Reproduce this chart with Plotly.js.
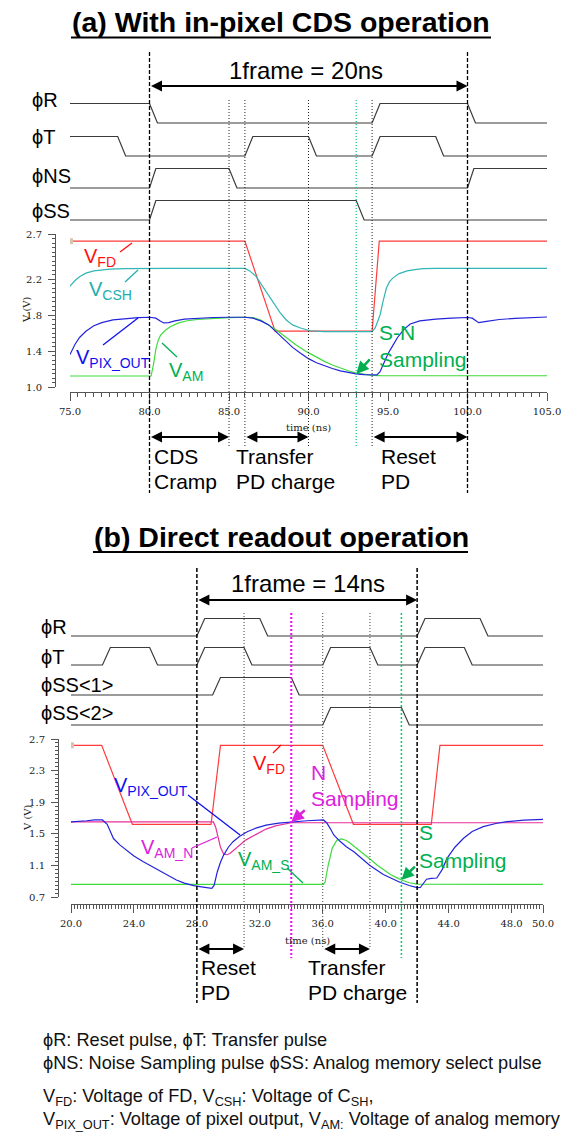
<!DOCTYPE html>
<html><head><meta charset="utf-8">
<script src="https://cdn.plot.ly/plotly-3.0.1.min.js"></script>
<style>html,body{margin:0;padding:0;background:#fff}#chart{width:562px;height:1138px}</style>
</head><body><div id="chart"></div>
<script>
// ---------------- DATA (a) With in-pixel CDS operation ----------------
const tFdA  = [75, 86, 87.9, 94, 94.45, 105];
const vFdA  = [2.62, 2.62, 1.62, 1.62, 2.62, 2.62];
const tCshA = [75, 75.3, 75.6, 76.0, 76.5, 77.0, 77.5, 78.5, 80, 80.5, 81, 86, 86.3, 86.7, 87.0, 87.4, 87.8, 88.2, 88.6, 89.0, 89.5, 90.1, 91, 94, 94.2, 94.5, 94.7, 94.9, 95.1, 95.3, 95.7, 96.2, 96.7, 97.2, 98, 100, 100.3, 100.7, 105];
const vCshA = [2.12, 2.18, 2.225, 2.265, 2.29, 2.303, 2.31, 2.315, 2.318, 2.325, 2.318, 2.318, 2.29, 2.23, 2.15, 2.04, 1.93, 1.83, 1.745, 1.69, 1.655, 1.625, 1.615, 1.615, 1.66, 1.80, 1.96, 2.10, 2.17, 2.21, 2.26, 2.29, 2.305, 2.315, 2.318, 2.318, 2.325, 2.318, 2.318];
const tPixA = [75, 75.3, 75.6, 76, 76.5, 77, 77.7, 78.5, 79.3, 80, 80.4, 80.7, 80.9, 81.2, 81.6, 82.2, 83, 84, 85, 86, 86.5, 87, 87.5, 88, 88.5, 89, 89.5, 90, 90.5, 91, 91.5, 92, 92.5, 93, 93.5, 94.1, 94.3, 94.5, 94.7, 95, 95.3, 95.6, 96, 96.4, 97, 98, 99, 100, 100.3, 100.7, 101.2, 102, 103, 104, 105];
const vPixA = [1.36, 1.47, 1.55, 1.62, 1.68, 1.715, 1.745, 1.76, 1.77, 1.775, 1.765, 1.73, 1.712, 1.715, 1.735, 1.755, 1.765, 1.772, 1.775, 1.775, 1.765, 1.735, 1.69, 1.61, 1.52, 1.44, 1.375, 1.315, 1.27, 1.235, 1.205, 1.18, 1.16, 1.145, 1.137, 1.133, 1.135, 1.17, 1.25, 1.37, 1.46, 1.55, 1.64, 1.70, 1.735, 1.755, 1.765, 1.772, 1.765, 1.715, 1.73, 1.75, 1.762, 1.772, 1.778];
const tAmA  = [75, 80.1, 80.25, 80.4, 80.55, 80.7, 81, 81.3, 81.8, 82.3, 83, 83.8, 85, 86, 86.5, 87, 87.4, 88, 88.6, 89.2, 89.9, 90.5, 91, 91.5, 92, 92.5, 93, 93.5, 94, 94.5, 105];
const vAmA  = [1.122, 1.122, 1.25, 1.42, 1.52, 1.578, 1.63, 1.67, 1.71, 1.733, 1.75, 1.76, 1.77, 1.775, 1.772, 1.745, 1.70, 1.63, 1.55, 1.47, 1.39, 1.33, 1.285, 1.245, 1.21, 1.18, 1.155, 1.14, 1.13, 1.126, 1.125];
const xTicksA = [75, 80, 85, 90, 95, 100, 105];
const yTicksA = [1.0, 1.4, 1.8, 2.2, 2.7];
// pulses (a): time breakpoints and logic levels
const pulseNamesA = ['ϕR', 'ϕT', 'ϕNS', 'ϕSS'];
const pRtA  = [75, 80, 80.5, 94, 94.5, 100, 100.5, 105];          const pRlA  = [1, 1, 0, 0, 1, 1, 0, 0];
const pTtA  = [75, 78, 78.5, 86, 86.5, 90, 90.5, 94, 94.5, 98, 98.5, 105]; const pTlA = [1, 1, 0, 0, 1, 1, 0, 0, 1, 1, 0, 0];
const pNSt  = [75, 80, 80.4, 85, 85.5, 100, 100.4, 105];          const pNSl  = [0, 0, 1, 1, 0, 0, 1, 1];
const pSStA = [75, 80, 80.4, 93, 93.5, 105];                      const pSSlA = [0, 0, 1, 1, 0, 0];
const frameA = [80, 100];
const phaseMarksA = [85, 86, 90, 94];
const sampleMarkA = [93];
const phasesA = [[80, 85], [86, 90], [94, 100]];
const phaseTextA = [['CDS', 'Cramp'], ['Transfer', 'PD charge'], ['Reset', 'PD']];

// ---------------- DATA (b) Direct readout operation ----------------
const tFdB  = [20, 21.95, 23.9, 28.9, 29.5, 36.0, 37.95, 42.9, 43.45, 50];
const vFdB  = [2.62, 2.62, 1.62, 1.62, 2.62, 2.62, 1.62, 1.62, 2.62, 2.62];
const tAmNB = [20, 29.05, 29.2, 29.35, 29.5, 29.7, 29.9, 30.1, 30.4, 30.7, 31.1, 31.6, 32.0, 32.4, 33.0, 33.7, 34, 50];
const vAmNB = [1.65, 1.65, 1.58, 1.45, 1.33, 1.245, 1.235, 1.25, 1.30, 1.355, 1.42, 1.475, 1.52, 1.56, 1.60, 1.63, 1.64, 1.64];
const tPixB = [20, 20.5, 21, 21.5, 22.0, 22.3, 22.5, 22.7, 23.1, 23.5, 24.0, 24.6, 25.2, 25.7, 26.2, 26.7, 27.2, 27.8, 28.4, 28.95, 29.1, 29.3, 29.5, 29.7, 30.0, 30.3, 30.7, 31.2, 31.8, 32.4, 33.2, 34, 35, 36.05, 36.25, 36.5, 36.7, 37.1, 37.5, 38.0, 38.4, 39.0, 39.85, 40.4, 40.9, 41.5, 42.0, 42.2, 42.4, 42.6, 42.9, 43.25, 43.6, 43.9, 44.4, 44.95, 45.5, 46.2, 47.0, 47.7, 48.8, 50];
const vPixB = [1.65, 1.655, 1.665, 1.675, 1.675, 1.62, 1.53, 1.44, 1.36, 1.295, 1.22, 1.147, 1.08, 1.02, 0.965, 0.915, 0.875, 0.843, 0.825, 0.81, 0.85, 1.02, 1.14, 1.23, 1.33, 1.40, 1.465, 1.527, 1.575, 1.61, 1.635, 1.65, 1.665, 1.675, 1.64, 1.56, 1.485, 1.405, 1.337, 1.27, 1.205, 1.10, 0.985, 0.93, 0.886, 0.845, 0.818, 0.82, 0.87, 0.925, 0.935, 0.94, 1.05, 1.19, 1.33, 1.443, 1.53, 1.59, 1.63, 1.653, 1.672, 1.683];
const tAmSB = [20, 36.05, 36.15, 36.35, 36.6, 36.9, 37.2, 37.5, 37.75, 38.2, 38.6, 39.0, 39.45, 39.9, 40.3, 40.7, 41.0, 41.5, 42, 50];
const vAmSB = [0.86, 0.86, 0.89, 1.105, 1.316, 1.42, 1.435, 1.415, 1.38, 1.31, 1.253, 1.18, 1.105, 1.04, 0.985, 0.945, 0.915, 0.88, 0.862, 0.86];
const xTicksB = [20, 24, 28, 32, 36, 40, 44, 48, 50];
const yTicksB = [0.7, 1.1, 1.5, 1.9, 2.3, 2.7];
const pulseNamesB = ['ϕR', 'ϕT', 'ϕSS&lt;1&gt;', 'ϕSS&lt;2&gt;'];
const pRtB  = [20, 28, 28.5, 32, 32.5, 42, 42.5, 46, 46.5, 50];   const pRlB = [0, 0, 1, 1, 0, 0, 1, 1, 0, 0];
const pTtB  = [20, 22, 22.5, 25, 25.5, 28, 28.5, 31, 31.5, 36, 36.5, 39, 39.5, 42, 42.5, 45, 45.5, 50];
const pTlB  = [0, 0, 1, 1, 0, 0, 1, 1, 0, 0, 1, 1, 0, 0, 1, 1, 0, 0];
const pSS1t = [20, 29, 29.5, 34, 34.5, 50];                        const pSS1l = [0, 0, 1, 1, 0, 0];
const pSS2t = [20, 36, 36.5, 41, 41.5, 50];                        const pSS2l = [0, 0, 1, 1, 0, 0];
const frameB = [28, 42];
const phaseMarksB = [31, 36, 39];
const nSampleMarkB = [34];
const sSampleMarkB = [41];
const phasesB = [[28, 31], [36, 39]];
const phaseTextB = [['Reset', 'PD'], ['Transfer', 'PD charge']];

const footer = [
  'ϕR: Reset pulse, ϕT: Transfer pulse',
  'ϕNS: Noise Sampling pulse ϕSS: Analog memory select pulse',
  'V<sub>FD</sub>: Voltage of FD, V<sub>CSH</sub>: Voltage of C<sub>SH</sub>,',
  'V<sub>PIX_OUT</sub>: Voltage of pixel output, V<sub>AM:</sub> Voltage of analog memory'
];

// ---------------- LAYOUT HELPERS ----------------
const W = 562, H = 1138;
const fx = p => p / W, fy = p => 1 - p / H;
const F = 'Liberation Sans, Arial, sans-serif';
const FS = 'DejaVu Serif, serif';
const C = {fd:'#ff3b3b', fdT:'#ff1010', csh:'#33b5b5', cshT:'#22adad', pix:'#2323dd', pixT:'#1010ee',
           am:'#3ddc3d', amT:'#00b050', amn:'#e8309a', amnT:'#dd22dd', mag:'#ff00ff', grn:'#00cc70', pulse:'#3a3a3a'};

const traces = [];
function curve(x, y, color, xa, ya) {
  traces.push({x, y, type:'scatter', mode:'lines', xaxis:xa, yaxis:ya, line:{color, width:1.2}, hoverinfo:'skip'});
}
// plot (a)
curve(tFdA, vFdA, C.fd, 'x', 'y');
curve(tCshA, vCshA, C.csh, 'x', 'y');
curve(tAmA, vAmA, C.am, 'x', 'y');
curve(tPixA, vPixA, C.pix, 'x', 'y');
traces.push({x:[tFdA[0]], y:[vFdA[0]], type:'scatter', mode:'markers', xaxis:'x', yaxis:'y', marker:{symbol:'square', size:6, color:'#d6c6ad'}, hoverinfo:'skip'});
// plot (b)
curve(tFdB, vFdB, C.fd, 'x2', 'y2');
curve(tAmSB, vAmSB, C.am, 'x2', 'y2');
curve(tAmNB, vAmNB, C.amn, 'x2', 'y2');
curve(tPixB, vPixB, C.pix, 'x2', 'y2');
traces.push({x:[tFdB[0]], y:[vFdB[0]], type:'scatter', mode:'markers', xaxis:'x2', yaxis:'y2', marker:{symbol:'square', size:6, color:'#d6c6ad'}, hoverinfo:'skip'});

// pulses drawn on a pixel-scaled hidden y axis (y3)
const rowLowA = [123, 156, 188, 220], ampA = 19.5;
const rowLowB = [636, 665, 695, 725], ampB = 17.5;
function pulse(t, l, low, amp, xa) {
  traces.push({x:t, y:l.map(v => low - v * amp), type:'scatter', mode:'lines', xaxis:xa, yaxis:'y3',
               line:{color:C.pulse, width:1.2}, hoverinfo:'skip'});
}
[[pRtA,pRlA],[pTtA,pTlA],[pNSt,pNSl],[pSStA,pSSlA]].forEach((p,i)=>pulse(p[0],p[1],rowLowA[i],ampA,'x'));
[[pRtB,pRlB],[pTtB,pTlB],[pSS1t,pSS1l],[pSS2t,pSS2l]].forEach((p,i)=>pulse(p[0],p[1],rowLowB[i],ampB,'x2'));

// ---------------- SHAPES ----------------
const shapes = [];
function vline(xa, t, y0, y1, color, dash, width) {
  shapes.push({type:'line', xref:xa, yref:'y3', x0:t, x1:t, y0, y1, line:{color, dash, width}, layer:'above'});
}
frameA.forEach(t => vline('x', t, 52, 493, '#000', '4px,2px', 1.3));
phaseMarksA.forEach(t => vline('x', t, 100, 447, '#222', '1px,2px', 1));
sampleMarkA.forEach(t => vline('x', t, 100, 447, C.grn, '1px,2px', 1.2));
frameB.forEach(t => vline('x2', t, 568, 1003, '#000', '4px,2px', 1.5));
phaseMarksB.forEach(t => vline('x2', t, 613, 949, '#444', '1px,2px', 1));
nSampleMarkB.forEach(t => vline('x2', t, 613, 958, C.mag, '2px,2px', 2));
sSampleMarkB.forEach(t => vline('x2', t, 613, 958, C.grn, '2px,2px', 1.5));

function seg(x0, y0, x1, y1, color, width) {
  shapes.push({type:'line', xref:'paper', yref:'paper', x0:fx(x0), y0:fy(y0), x1:fx(x1), y1:fy(y1), line:{color, width:width || 1.3}});
}
// title underlines
seg(71, 37.5, 491, 37.5, '#000', 2.2);
seg(93, 552, 468, 552, '#000', 2.2);
// leader lines (a)
seg(120, 252, 132, 243, C.fdT);
seg(125, 282, 138, 270, C.cshT);
seg(103, 345, 138, 318, C.pixT);
seg(177, 357, 162, 343, C.amT);
// leader lines (b)
seg(273, 753, 281, 745, C.fdT);
seg(188, 795, 240, 835, C.pixT);
seg(192, 848, 217, 837, C.amnT);
seg(287, 868, 303, 883, C.amT);

// ---------------- ANNOTATIONS ----------------
const ann = [];
function txt(x, y, text, size, color, opts) {
  ann.push(Object.assign({xref:'paper', yref:'paper', x:fx(x), y:fy(y), text, showarrow:false,
    xanchor:'left', yanchor:'middle', borderpad:0, font:{family:F, size, color}}, opts || {}));
}
// titles
txt(281, 22, '<b>(a) With in-pixel CDS operation</b>', 28.5, '#000', {xanchor:'center'});
txt(281, 537, '<b>(b) Direct readout operation</b>', 28.5, '#000', {xanchor:'center'});
txt(306, 70, '1frame = 20ns', 24, '#000', {xanchor:'center'});
txt(308, 583, '1frame = 14ns', 24, '#000', {xanchor:'center'});
// pulse names
[100, 137, 176, 211].forEach((y, i) => txt(31, y, pulseNamesA[i], 20, '#000'));
[627, 657, 685, 713].forEach((y, i) => txt(40, y, pulseNamesB[i], 20, '#000'));
// double arrows
function darrow(xa, t0, t1, y) {
  ann.push({xref:xa, yref:'y3', x:t1, y, axref:xa, ayref:'y3', ax:t0, ay:y, text:'', showarrow:true,
    arrowside:'end+start', arrowhead:2, startarrowhead:2, arrowsize:1, startarrowsize:1, arrowwidth:2.2,
    arrowcolor:'#000', standoff:0, startstandoff:0});
}
darrow('x', frameA[0], frameA[1], 86);
darrow('x2', frameB[0], frameB[1], 600);
phasesA.forEach(p => darrow('x', p[0], p[1], 437));
phasesB.forEach(p => darrow('x2', p[0], p[1], 949));
// phase labels
[153, 235, 380].forEach((x, i) => { txt(x, 456, phaseTextA[i][0], 21, '#000'); txt(x, 481, phaseTextA[i][1], 21, '#000'); });
[200, 307].forEach((x, i) => { txt(x, 967, phaseTextB[i][0], 21, '#000'); txt(x, 992, phaseTextB[i][1], 21, '#000'); });
// axis titles
txt(308, 428, 'time (ns)', 10, '#222', {xanchor:'center', font:{family:FS, size:10, color:'#222'}});
txt(307, 940, 'time (ns)', 10, '#222', {xanchor:'center', font:{family:FS, size:10, color:'#222'}});
txt(27, 310, 'V (V)', 10, '#222', {xanchor:'center', textangle:-90, font:{family:FS, size:10, color:'#222'}});
txt(27, 818, 'V (V)', 10, '#222', {xanchor:'center', textangle:-90, font:{family:FS, size:10, color:'#222'}});
// curve labels (a)
txt(83, 257, 'V<sub>FD</sub>', 20, C.fdT);
txt(88, 290, 'V<sub>CSH</sub>', 20, C.cshT);
txt(75, 358, 'V<sub>PIX_OUT</sub>', 20, C.pixT);
txt(168, 371, 'V<sub>AM</sub>', 20, C.amT);
txt(378, 333, 'S-N', 21, C.amT);
txt(378, 360, 'Sampling', 21, C.amT);
// curve labels (b)
txt(252, 764, 'V<sub>FD</sub>', 20, C.fdT);
txt(113, 786, 'V<sub>PIX_OUT</sub>', 20, C.pixT);
txt(140, 848, 'V<sub>AM_N</sub>', 20, C.amnT);
txt(237, 860, 'V<sub>AM_S</sub>', 20, C.amT);
txt(310, 772, 'N', 21, C.amnT);
txt(310, 798, 'Sampling', 21, C.amnT);
txt(418, 832, 'S', 21, C.amT);
txt(418, 860, 'Sampling', 21, C.amT);
// sampling arrows
function sarrow(xa, ya, t, v, dx, dy, color) {
  ann.push({xref:xa, yref:ya, x:t, y:v, ax:dx, ay:dy, text:'', showarrow:true, arrowhead:2, arrowsize:1,
    arrowwidth:2.5, arrowcolor:color, standoff:0});
}
sarrow('x', 'y', sampleMarkA[0], 1.145, 15, -16, C.amT);
sarrow('x2', 'y2', nSampleMarkB[0], 1.65, 15, -13, C.amnT);
sarrow('x2', 'y2', sSampleMarkB[0], 0.915, 15, -15, C.amT);
// footer
[1040, 1063, 1097, 1120].forEach((y, i) => txt(42, y, footer[i], 18.2, '#111'));

// ---------------- AXES ----------------
function xax(dom, rng, pos, ticks, minor) {
  return {domain:[fx(dom[0]), fx(dom[1])], range:rng, anchor:'free', position:fy(pos), showline:true, linecolor:'#555',
    linewidth:1, ticks:'outside', ticklen:8, tickcolor:'#555', tickwidth:1, tickmode:'array', tickvals:ticks,
    tickformat:'.1f', ticklabelstandoff:2, tickfont:{family:FS, size:10, color:'#222'}, showgrid:false, zeroline:false,
    minor:{tickmode:'linear', tick0:rng[0], dtick:minor, ticklen:4, tickcolor:'#555', showgrid:false}, fixedrange:true};
}
function yax(dom, rng, pos, ticks) {
  return {domain:[fy(dom[1]), fy(dom[0])], range:rng, anchor:'free', position:fx(pos), showline:true, linecolor:'#555',
    linewidth:1, ticks:'outside', ticklen:7, tickcolor:'#555', tickwidth:1, tickmode:'array', tickvals:ticks,
    tickformat:'.1f', ticklabelstandoff:4, tickfont:{family:FS, size:10, color:'#222'}, showgrid:false, zeroline:false,
    minor:{tickmode:'linear', tick0:rng[0], dtick:0.05, ticklen:3, tickcolor:'#555', showgrid:false}, fixedrange:true};
}
const layout = {
  width:W, height:H, margin:{l:0, r:0, t:0, b:0}, paper_bgcolor:'#fff', plot_bgcolor:'rgba(0,0,0,0)',
  showlegend:false,
  xaxis: xax([70, 547], [75, 105], 392, xTicksA, 0.5),
  yaxis: yax([234, 387], [1.0, 2.7], 55, yTicksA),
  xaxis2: xax([71, 543], [20, 50], 904, xTicksB, 0.2),
  yaxis2: yax([739, 897], [0.7, 2.7], 58, yTicksB),
  yaxis3: {domain:[0, 1], range:[H, 0], visible:false, anchor:'free', position:0, fixedrange:true},
  shapes, annotations:ann
};
Plotly.newPlot('chart', traces, layout, {displayModeBar:false, staticPlot:true});
</script></body></html>
